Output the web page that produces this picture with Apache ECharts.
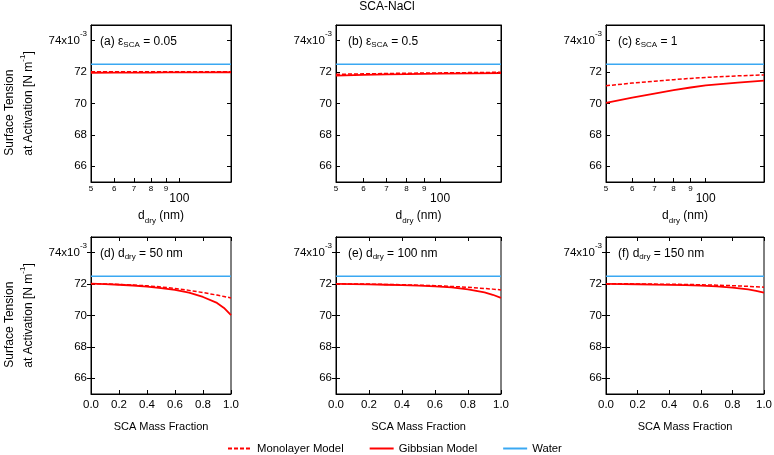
<!DOCTYPE html>
<html><head><meta charset="utf-8">
<script src="https://cdn.jsdelivr.net/npm/echarts@6/dist/echarts.min.js"></script>
<style>html,body{margin:0;padding:0;background:#fff}#c{width:774px;height:455px}</style>
</head><body><div id="c"></div>
<script>
// ---- data ----
const dryDiam = [50, 60, 70, 80, 90, 100, 125, 150];
const eps005Mono  = [72.02, 72.02, 72.02, 72.02, 72.02, 72.02, 72.02, 72.02];
const eps005Gibbs = [71.96, 71.97, 71.97, 71.97, 71.98, 71.98, 71.98, 71.99];
const eps05Mono   = [71.86, 71.89, 71.91, 71.93, 71.94, 71.95, 71.97, 71.99];
const eps05Gibbs  = [71.78, 71.82, 71.85, 71.87, 71.89, 71.90, 71.92, 71.94];
const eps1Mono    = [71.13, 71.30, 71.42, 71.52, 71.60, 71.66, 71.76, 71.82];
const eps1Gibbs   = [70.04, 70.37, 70.63, 70.85, 71.02, 71.15, 71.33, 71.46];

const massFrac = [0, 0.1, 0.2, 0.3, 0.4, 0.5, 0.6, 0.7, 0.8, 0.9, 0.95, 1.0];
const d50Mono   = [72.03, 72.01, 71.98, 71.94, 71.89, 71.82, 71.72, 71.60, 71.46, 71.30, 71.21, 71.12];
const d50Gibbs  = [72.03, 72.00, 71.96, 71.91, 71.84, 71.75, 71.63, 71.45, 71.18, 70.80, 70.48, 70.02];
const d100Mono  = [72.02, 72.01, 72.00, 71.98, 71.96, 71.93, 71.90, 71.85, 71.80, 71.72, 71.68, 71.63];
const d100Gibbs = [72.01, 72.00, 71.98, 71.96, 71.93, 71.90, 71.86, 71.79, 71.67, 71.47, 71.32, 71.12];
const d150Mono  = [72.02, 72.02, 72.01, 72.00, 71.99, 71.98, 71.96, 71.93, 71.90, 71.86, 71.83, 71.80];
const d150Gibbs = [72.01, 72.00, 71.99, 71.97, 71.95, 71.93, 71.90, 71.85, 71.78, 71.66, 71.57, 71.46];

const waterST = 72.5;
const yTicks = [66, 68, 70, 72, 74];
const dryTicks = [50, 60, 70, 80, 90, 100];
const panelLabels = [
  '(a) ε{s|SCA} = 0.05', '(b) ε{s|SCA} = 0.5', '(c) ε{s|SCA} = 1',
  '(d) d{s|dry} = 50 nm', '(e) d{s|dry} = 100 nm', '(f) d{s|dry} = 150 nm'
];
const legendNames = ['Monolayer Model', 'Gibbsian Model', 'Water'];

// ---- layout ----
const FONT = 'Liberation Sans';
const lefts = [91, 336, 606];
const widths = [140, 165, 158];
const tops = [25, 237];
const H = 157;
const RED = '#ff0000', BLUE = '#3aa8f2';

const panels = [
  {x: dryDiam, mono: eps005Mono, gibbs: eps005Gibbs},
  {x: dryDiam, mono: eps05Mono, gibbs: eps05Gibbs},
  {x: dryDiam, mono: eps1Mono, gibbs: eps1Gibbs},
  {x: massFrac, mono: d50Mono, gibbs: d50Gibbs},
  {x: massFrac, mono: d100Mono, gibbs: d100Gibbs},
  {x: massFrac, mono: d150Mono, gibbs: d150Gibbs}
];

const grids = [], xAxes = [], yAxes = [], series = [], titles = [];
titles.push({text: 'SCA-NaCl', left: 'center', top: 1, padding: 0,
  textStyle: {fontFamily: FONT, fontSize: 12, fontWeight: 'normal', color: '#000'}});

const tickStyle = {show: true, inside: true, length: 4, lineStyle: {color: '#000', width: 1}};
const lineAx = {show: true, lineStyle: {color: '#000', width: 1}};

panels.forEach((p, i) => {
  const row = Math.floor(i / 3), col = i % 3;
  grids.push({left: lefts[col], top: tops[row], width: widths[col], height: H,
    show: true, borderColor: '#000', borderWidth: 1, containLabel: false, outerBoundsMode: 'none'});
  const isLog = row === 0;
  const xmin = isLog ? 50 : 0, xmax = isLog ? 150 : 1;
  const xa = {
    gridIndex: i, position: 'bottom', min: xmin, max: xmax,
    axisLine: lineAx, splitLine: {show: false},
    nameLocation: 'middle'
  };
  if (isLog) {
    Object.assign(xa, {
      type: 'log', logBase: 10,
      axisTick: Object.assign({}, tickStyle, {customValues: dryTicks}),
      axisLabel: {customValues: dryTicks, margin: 3, fontFamily: FONT, fontSize: 8, color: '#000',
        formatter: v => Math.abs(v - 100) < 1e-6 ? '{big|100}' : String(Math.round(v / 10)),
        rich: {big: {fontFamily: FONT, fontSize: 12, color: '#000', padding: [8, 0, 0, 0]}}},
      name: 'd{s|dry} (nm)', nameGap: 24,
      nameTextStyle: {fontFamily: FONT, fontSize: 12, color: '#000',
        rich: {s: {fontFamily: FONT, fontSize: 8, color: '#000', padding: [11, 0, 0, 0]}}}
    });
  } else {
    Object.assign(xa, {
      type: 'value', interval: 0.2,
      axisTick: tickStyle,
      axisLabel: {margin: 5, fontFamily: FONT, fontSize: 11.5, color: '#000',
        formatter: v => v.toFixed(1)},
      name: 'SCA Mass Fraction', nameGap: 27,
      nameTextStyle: {fontFamily: FONT, fontSize: 11, color: '#000'}
    });
  }
  xAxes.push(xa);
  // top axis (ticks only for bottom row)
  xAxes.push({gridIndex: i, position: 'top', type: isLog ? 'log' : 'value', min: xmin, max: xmax,
    interval: isLog ? undefined : 0.2,
    axisLine: lineAx, axisLabel: {show: false}, splitLine: {show: false},
    axisTick: isLog ? {show: false} : tickStyle});

  const ya = {
    gridIndex: i, type: 'value', position: 'left', min: 65, max: 75,
    axisLine: lineAx, splitLine: {show: false},
    axisTick: Object.assign({}, tickStyle, {customValues: yTicks}),
    axisLabel: {customValues: yTicks, margin: 4, fontFamily: FONT, fontSize: 11.5, color: '#000',
      formatter: v => v === 74 ? '{a|74x10}{b|-3}' : String(v),
      rich: {a: {fontFamily: FONT, fontSize: 11.5, color: '#000'},
             b: {fontFamily: FONT, fontSize: 8, color: '#000', verticalAlign: 'top', padding: [0, 0, 14, 0]}}}
  };
  if (col === 0) {
    Object.assign(ya, {
      name: '{l|Surface Tension}\n{l|at Activation [N m}{b|-1}{l|]}',
      nameLocation: 'middle', nameRotate: 90, nameGap: 53,
      nameTextStyle: {fontFamily: FONT, fontSize: 12, color: '#000', lineHeight: 19,
        rich: {l: {fontFamily: FONT, fontSize: 12, color: '#000', align: 'left', lineHeight: 19},
               b: {fontFamily: FONT, fontSize: 8, color: '#000', align: 'left', verticalAlign: 'top', padding: [0, 0, 8, 0]}}}
    });
  }
  yAxes.push(ya);
  yAxes.push({gridIndex: i, type: 'value', position: 'right', min: 65, max: 75,
    axisLine: lineAx, splitLine: {show: false}, axisLabel: {show: false},
    axisTick: Object.assign({}, tickStyle, {customValues: yTicks})});

  const xi = i * 2, yi = i * 2;
  series.push({name: legendNames[2], type: 'line', xAxisIndex: xi, yAxisIndex: yi, symbol: 'none',
    lineStyle: {color: BLUE, width: 1.3}, itemStyle: {color: BLUE},
    data: [[xmin, waterST], [xmax, waterST]]});
  series.push({name: legendNames[0], type: 'line', xAxisIndex: xi, yAxisIndex: yi, symbol: 'none',
    lineStyle: {color: RED, width: 1.5, type: [4, 2]}, itemStyle: {color: RED},
    data: p.x.map((x, k) => [x, p.mono[k]])});
  series.push({name: legendNames[1], type: 'line', xAxisIndex: xi, yAxisIndex: yi, symbol: 'none',
    lineStyle: {color: RED, width: 1.8}, itemStyle: {color: RED},
    data: p.x.map((x, k) => [x, p.gibbs[k]])});

  titles.push({text: panelLabels[i], left: lefts[col] + (col === 0 ? 9 : 12), top: tops[row] + 10, padding: 0,
    textStyle: {fontFamily: FONT, fontSize: 12, fontWeight: 'normal', color: '#000',
      rich: {s: {fontFamily: FONT, fontSize: 8, color: '#000', padding: [6, 0, 0, 0]}}}});
});

const chart = echarts.init(document.getElementById('c'), null, {renderer: 'canvas'});
chart.setOption({
  animation: false,
  backgroundColor: '#fff',
  title: titles,
  grid: grids, xAxis: xAxes, yAxis: yAxes, series: series,
  legend: {show: true, data: legendNames, bottom: 1, left: 227, padding: 0, orient: 'horizontal',
    itemWidth: 24, itemHeight: 10, itemGap: 25, itemStyle: {opacity: 0},
    textStyle: {fontFamily: FONT, fontSize: 11.3, color: '#000'}}
});
</script></body></html>
